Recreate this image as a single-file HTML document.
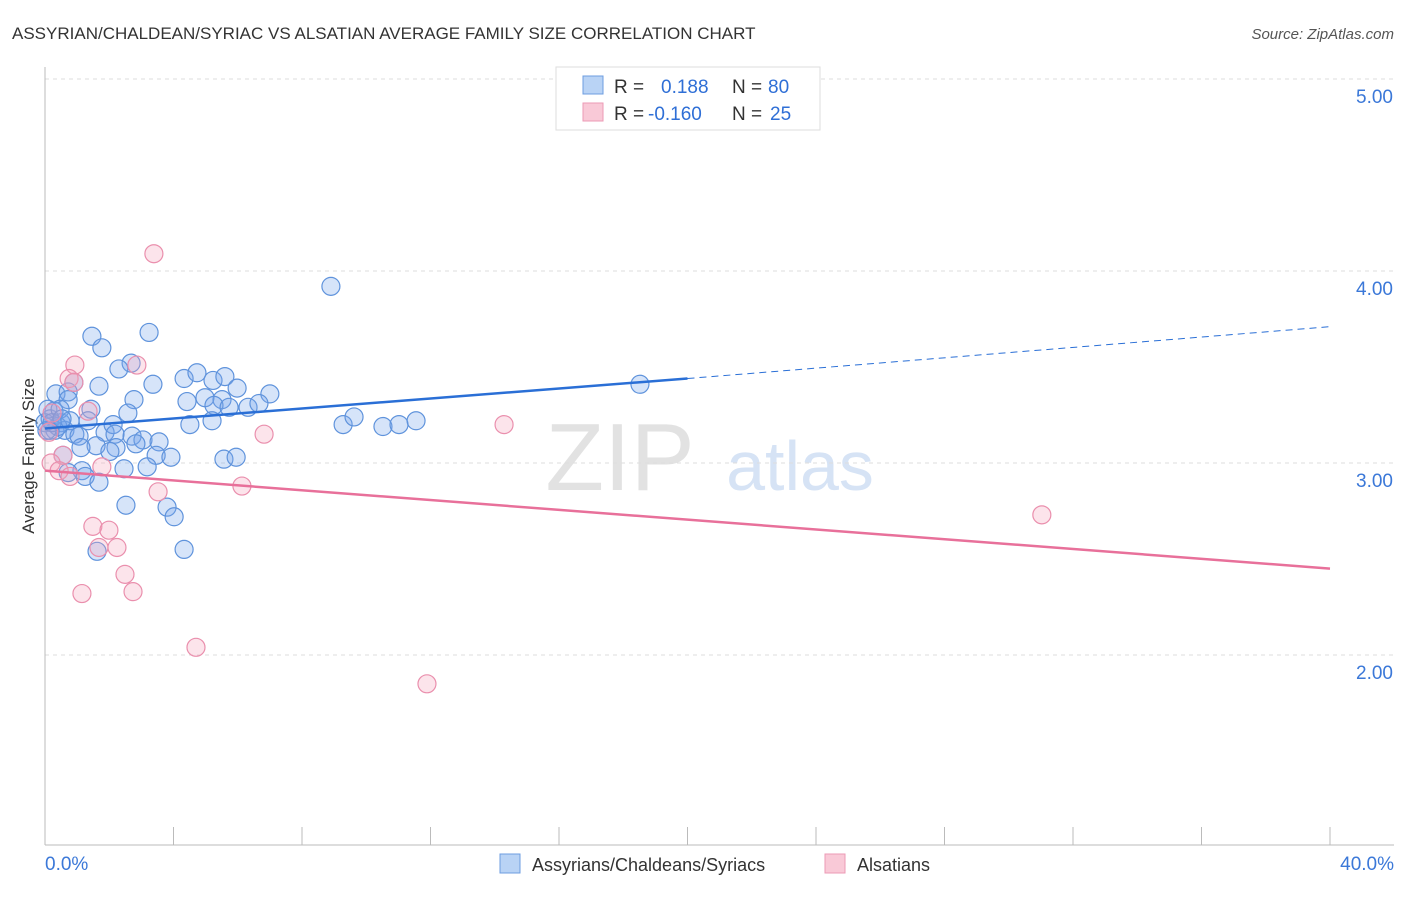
<!DOCTYPE html>
<html><head><meta charset="utf-8"><style>
body{margin:0;background:#fff;font-family:"Liberation Sans",sans-serif;}
svg text{font-family:"Liberation Sans",sans-serif;}
</style></head><body>
<svg id="c" width="1406" height="892">
<text x="12" y="39" font-size="17" fill="#333">ASSYRIAN/CHALDEAN/SYRIAC VS ALSATIAN AVERAGE FAMILY SIZE CORRELATION CHART</text>
<text x="1394" y="39" font-size="15" fill="#555" font-style="italic" text-anchor="end">Source: ZipAtlas.com</text>
<text x="34" y="456" font-size="17" fill="#333" text-anchor="middle" transform="rotate(-90 34 456)">Average Family Size</text>
<text x="620" y="490" font-size="96" fill="#e2e2e2" font-family="Liberation Serif" text-anchor="middle">ZIP</text>
<text x="800" y="490" font-size="70" fill="#d6e3f5" text-anchor="middle">atlas</text>
<g id="grid"></g><g id="axes"></g><g id="pts"></g><g id="trend"></g>
<g>
<rect x="556" y="67" width="264" height="63" fill="#fff" stroke="#ddd"/>
<rect x="583" y="76" width="20" height="18" fill="#b9d3f5" stroke="#6d9de0"/>
<rect x="583" y="103" width="20" height="18" fill="#f9c9d7" stroke="#ec9ab5"/>
<text x="614" y="93" font-size="19" fill="#333">R = </text><text x="661" y="93" font-size="19" fill="#2f6fd6">0.188</text>
<text x="732" y="93" font-size="19" fill="#333">N = </text><text x="768" y="93" font-size="19" fill="#2f6fd6">80</text>
<text x="614" y="120" font-size="19" fill="#333">R = </text><text x="648" y="120" font-size="19" fill="#2f6fd6">-0.160</text>
<text x="732" y="120" font-size="19" fill="#333">N = </text><text x="770" y="120" font-size="19" fill="#2f6fd6">25</text>
</g>
<g>
<rect x="500" y="854" width="20" height="19" fill="#b9d3f5" stroke="#6d9de0"/>
<text x="532" y="871" font-size="18" fill="#333">Assyrians/Chaldeans/Syriacs</text>
<rect x="825" y="854" width="20" height="19" fill="#f9c9d7" stroke="#ec9ab5"/>
<text x="857" y="871" font-size="18" fill="#333">Alsatians</text>
</g>
</svg>
<script>
const yTicks=[2,3,4,5];
const yTickLabels=["2.00","3.00","4.00","5.00"];
const xTickVals=[0,4,8,12,16,20,24,28,32,36,40];
const xEndLabels=["0.0%","40.0%"];
const blueX=[1.46,1.77,3.24,2.68,2.30,0.90,1.68,3.36,4.33,4.73,5.23,5.60,5.98,7.00,0.34,0.72,0.72,2.77,4.42,4.98,5.51,5.26,5.73,6.32,6.66,2.58,1.43,1.34,0.28,0.16,4.51,5.20,0.50,0.31,0.62,0.93,1.06,1.87,2.12,2.18,2.71,3.05,3.55,1.59,1.12,2.21,2.83,2.02,0.56,3.46,3.92,5.57,5.95,3.18,2.46,1.15,0.72,1.25,1.68,2.52,3.80,4.02,1.62,4.33,8.90,18.52,9.28,9.62,10.52,11.02,11.55,0,0.16,0.09,0.47,0.40,0.78,0.06,0.22,0.53];
const blueY=[3.66,3.60,3.68,3.52,3.49,3.42,3.40,3.41,3.44,3.47,3.43,3.45,3.39,3.36,3.36,3.37,3.33,3.33,3.32,3.34,3.33,3.30,3.29,3.29,3.31,3.26,3.28,3.22,3.27,3.23,3.20,3.22,3.21,3.17,3.17,3.15,3.14,3.16,3.20,3.15,3.14,3.12,3.11,3.09,3.08,3.08,3.10,3.06,3.04,3.04,3.03,3.02,3.03,2.98,2.97,2.96,2.95,2.93,2.90,2.78,2.77,2.72,2.54,2.55,3.92,3.41,3.20,3.24,3.19,3.20,3.22,3.21,3.17,3.28,3.28,3.19,3.22,3.17,3.21,3.23];
const pinkX=[3.39,0.93,2.86,0.75,0.90,0.22,1.34,6.82,14.29,0.12,0.56,0.19,0.44,0.78,1.77,3.52,6.13,31.03,1.49,1.99,1.68,2.24,2.49,1.15,2.74,4.70,11.89];
const pinkY=[4.09,3.51,3.51,3.44,3.42,3.26,3.27,3.15,3.20,3.16,3.04,3.00,2.96,2.93,2.98,2.85,2.88,2.73,2.67,2.65,2.56,2.56,2.42,2.32,2.33,2.04,1.85];
const blueTrend=[3.18,3.44,3.71]; // at x=0,20,40
const pinkTrend=[2.96,2.45]; // at x=0,40
const NS="http://www.w3.org/2000/svg";
function X(v){return 45+v/40*1285;}
function Y(v){return 79+(5-v)*192;}
function mk(tag,attrs,parent){const e=document.createElementNS(NS,tag);for(const k in attrs)e.setAttribute(k,attrs[k]);document.getElementById(parent).appendChild(e);return e;}
yTicks.forEach((t,i)=>{
  const l=mk('line',{x1:45,x2:1394,y1:Y(t),y2:Y(t),stroke:'#ddd','stroke-dasharray':'4,4'},'grid');
  
  
  const tx=mk('text',{x:1393,y:Y(t)+24,'font-size':19,fill:'#3b78d8','text-anchor':'end'},'grid');
  tx.textContent=yTickLabels[i];
  
  
});
const ax=mk('line',{x1:45,x2:45,y1:67,y2:845,stroke:'#bbb'},'axes');


const bx=mk('line',{x1:45,x2:1394,y1:845,y2:845,stroke:'#bbb'},'axes');


xTickVals.forEach(v=>{
  const t=mk('line',{x1:X(v),x2:X(v),y1:827,y2:845,stroke:'#bbb'},'axes');
  
  
});
[[0,'start',45],[40,'end',1394]].forEach((a,i)=>{
  const t=mk('text',{x:a[2],y:870,'font-size':19,fill:'#3b78d8','text-anchor':a[1]},'axes');
  t.textContent=xEndLabels[i];
  
  
});
blueX.forEach((x,i)=>{
  const c=mk('circle',{cx:X(x),cy:Y(blueY[i]),r:9,fill:'rgba(120,165,235,0.3)',stroke:'#5f93dc','stroke-width':1.2},'pts');
  
  
});
pinkX.forEach((x,i)=>{
  const c=mk('circle',{cx:X(x),cy:Y(pinkY[i]),r:9,fill:'rgba(245,165,190,0.3)',stroke:'#ea8fad','stroke-width':1.2},'pts');
  
  
});
const b1=mk('line',{x1:X(0),y1:Y(blueTrend[0]),x2:X(20),y2:Y(blueTrend[1]),stroke:'#2a6fd6','stroke-width':2.5},'trend');


const b2=mk('line',{x1:X(20),y1:Y(blueTrend[1]),x2:X(40),y2:Y(blueTrend[2]),stroke:'#2a6fd6','stroke-width':1,'stroke-dasharray':'7,5'},'trend');


const p1=mk('line',{x1:X(0),y1:Y(pinkTrend[0]),x2:X(40),y2:Y(pinkTrend[1]),stroke:'#e8709a','stroke-width':2.5},'trend');


</script>
</body></html>
